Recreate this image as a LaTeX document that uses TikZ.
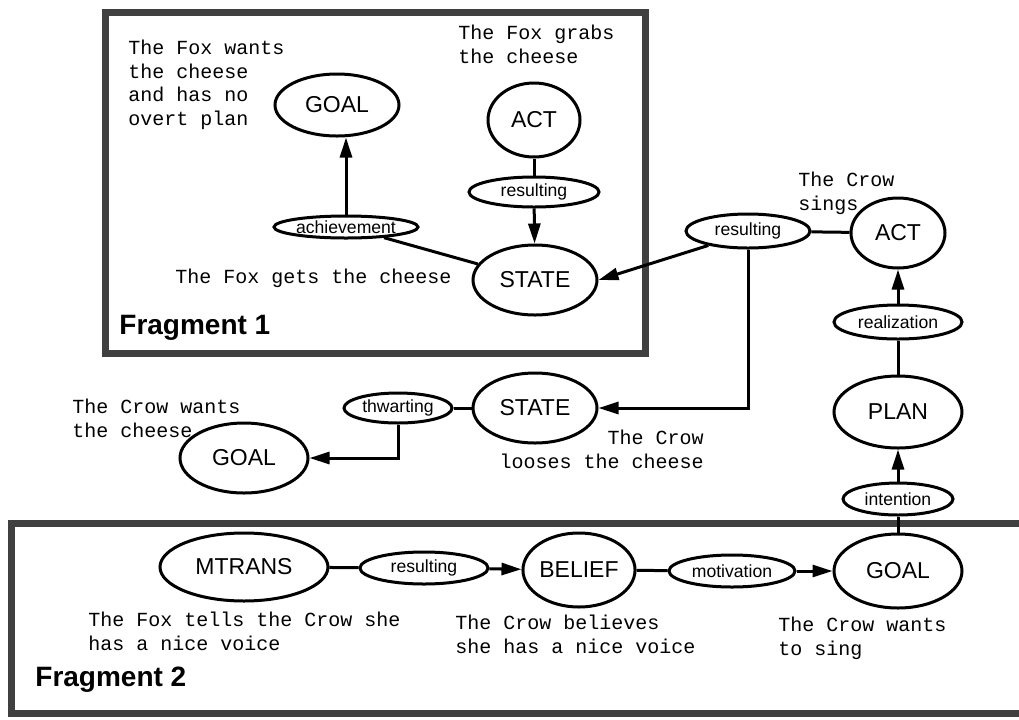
\documentclass[tikz,border=0pt]{standalone}
\usepackage{fontspec}
\setsansfont{Liberation Sans}
\setmonofont{Liberation Mono}
\usepackage{tikz}
\usetikzlibrary{shapes.geometric, arrows.meta}

\newcommand{\conceptfont}{\sffamily\fontsize{11.5}{13}\selectfont}
\newcommand{\linkfont}{\sffamily\fontsize{8.8}{10}\selectfont}
\newcommand{\notefont}{\ttfamily\fontsize{10}{11.75}\selectfont}

\begin{document}
\begin{tikzpicture}[x=0.5pt, y=-0.5pt,
        concept/.style={ellipse, draw, line width=1.5pt, inner sep=0pt, font=\conceptfont},
        link/.style={ellipse, draw, line width=1.5pt, inner sep=0pt, font=\linkfont},
        note/.style={font=\notefont, align=left, inner sep=0pt, anchor=north west},
        tie/.style={line width=1.5pt},
        arr/.style={line width=1.5pt, -{Triangle[length=10pt, width=6pt]}},
        fragment/.style={line width=3.5pt, draw=black!75},
        fraglabel/.style={font=\sffamily\bfseries\fontsize{14}{16}\selectfont, anchor=west, inner sep=0pt}]

        \useasboundingbox (0,0) rectangle (1019,719);

        % --- 1. Fragment 1: the Fox gets the cheese ---
        \draw[fragment] (105,12) rectangle (645,353);
        \node[fraglabel] (frag1) at (119,328) {Fragment 1};

        \node[concept, minimum width=62pt, minimum height=31pt] (goalA) at (337,105) {GOAL};
        \node[concept, minimum width=46pt, minimum height=37pt] (actA) at (534,120) {ACT};
        \node[link, minimum width=65pt, minimum height=15pt] (resA) at (534,192) {resulting};
        \node[link, minimum width=72pt, minimum height=11pt] (achA) at (346,227) {achievement};
        \node[concept, minimum width=62pt, minimum height=35pt] (stateA) at (535,280) {STATE};

        \node[note] (wantA) at (128,40) {The Fox wants\\the cheese\\and has no\\overt plan};
        \node[note] (grabA) at (458,25) {The Fox grabs\\the cheese};
        \node[note, anchor=west] (getA) at (175,278) {The Fox gets the cheese};

        \draw[tie] (actA) -- (resA);
        \draw[arr] (resA) -- (stateA);
        \draw[arr] (achA.north) -- (achA.north |- goalA.south);
        \draw[tie] (achA) -- (stateA);

        % --- 2. The Crow sings ---
        \node[link, minimum width=62pt, minimum height=17pt] (resB) at (748,231) {resulting};
        \node[concept, minimum width=47pt, minimum height=35pt] (actB) at (898,233) {ACT};
        \node[link, minimum width=64pt, minimum height=17pt] (realB) at (898,322) {realization};
        \node[concept, minimum width=64pt, minimum height=36pt] (planB) at (898,412) {PLAN};
        \node[link, minimum width=55pt, minimum height=16pt] (intB) at (898,499) {intention};

        \node[note] (singB) at (798,172) {The Crow\\sings};

        \draw[tie] (resB) -- (actB);
        \draw[arr] (realB) -- (actB);
        \draw[tie] (realB) -- (planB);
        \draw[arr] (intB) -- (planB);

        % --- 3. The Crow looses the cheese ---
        \node[concept, minimum width=62pt, minimum height=35pt] (stateB) at (535,408) {STATE};
        \node[link, minimum width=54pt, minimum height=15pt] (thwB) at (398,408) {thwarting};
        \node[concept, minimum width=64pt, minimum height=35pt] (goalB) at (244,458) {GOAL};

        \node[note] (wantB) at (72,399) {The Crow wants\\the cheese};
        \node[note, align=right, anchor=north east] (loseB) at (704,430) {The Crow\\looses the cheese};

        \draw[arr] (resB.200) -- (stateA.east);
        \draw[arr] (resB.south) |- (stateB.east);
        \draw[tie] (thwB) -- (stateB);
        \draw[arr] (thwB.south) |- (goalB.east);

        % --- 4. Fragment 2: flattery ---
        \draw[fragment] (1019,523) -- (11,523) -- (11,713) -- (1019,713);
        \node[fraglabel] (frag2) at (35,680) {Fragment 2};

        \node[concept, minimum width=84pt, minimum height=34pt] (mtrC) at (244,567) {MTRANS};
        \node[link, minimum width=64pt, minimum height=16pt] (resC) at (424,568) {resulting};
        \node[concept, minimum width=54pt, minimum height=37pt] (belC) at (579,570) {BELIEF};
        \node[link, minimum width=63pt, minimum height=16pt] (motC) at (732,571) {motivation};
        \node[concept, minimum width=64pt, minimum height=37pt] (goalC) at (898,571) {GOAL};

        \node[note] (tellC) at (88,612) {The Fox tells the Crow she\\has a nice voice};
        \node[note] (believeC) at (455,615) {The Crow believes\\she has a nice voice};
        \node[note] (singC) at (778,617) {The Crow wants\\to sing};

        \draw[tie] (mtrC) -- (resC);
        \draw[arr] (resC) -- (belC);
        \draw[tie] (belC) -- (motC);
        \draw[arr] (motC) -- (goalC);
        \draw[tie] (intB) -- (goalC);

\end{tikzpicture}
\end{document}
